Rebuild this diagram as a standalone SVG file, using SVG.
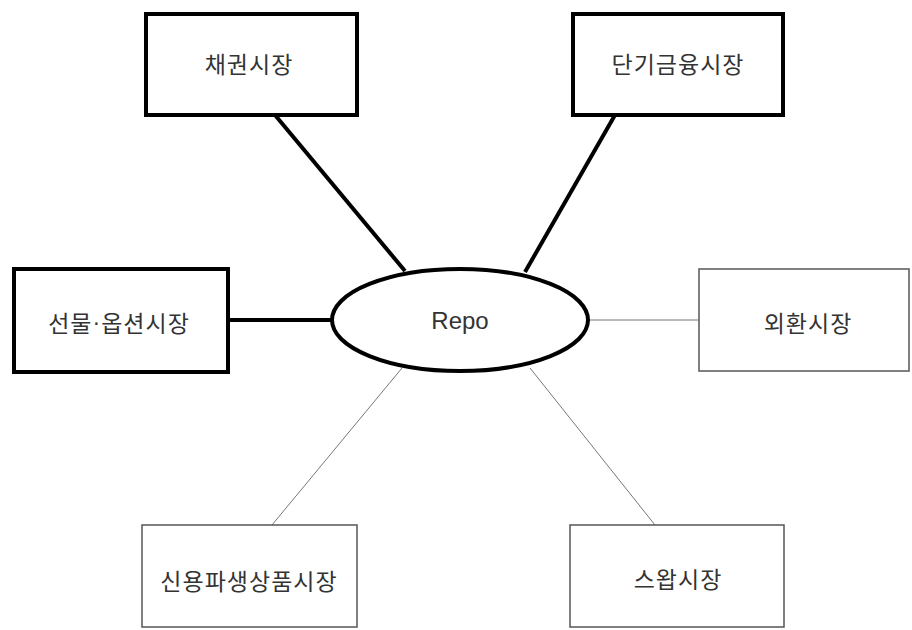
<svg xmlns="http://www.w3.org/2000/svg" width="912" height="630" viewBox="0 0 912 630">
<style>
.thick{fill:#fff;stroke:#000;stroke-width:4}
.thin{fill:#fff;stroke:#555;stroke-width:1.5}
.lk{stroke:#000;stroke-width:4;fill:none}
.ln{stroke:#777;stroke-width:1;fill:none}
.kr{font-family:"Noto Sans CJK KR","Noto Sans CJK SC",sans-serif;font-size:23px;letter-spacing:1px;fill:#333;text-anchor:middle;dominant-baseline:central}
.en{font-family:"Liberation Sans",Arial,sans-serif;font-size:24px;fill:#333;text-anchor:middle;dominant-baseline:central}
.dot{font-family:"Liberation Sans",Arial,sans-serif}
</style>
<rect width="912" height="630" fill="#fff"/>
<g id="connectors">
<line class="lk" x1="275" y1="115" x2="405" y2="271"/>
<line class="lk" x1="615" y1="115" x2="525" y2="272"/>
<line class="lk" x1="228" y1="320" x2="332" y2="320"/>
<line class="ln" x1="588" y1="320" x2="699" y2="320"/>
<line class="ln" x1="272" y1="525" x2="402" y2="368"/>
<line class="ln" x1="655" y1="525" x2="530" y2="368"/>
</g>
<g id="repo">
<ellipse class="thick" cx="460" cy="320" rx="128" ry="51"/>
<text class="en" x="460" y="320">Repo</text>
</g>
<g id="bond">
<rect class="thick" x="146" y="14" width="211" height="101"/>
<text class="kr" x="249" y="63">채권시장</text>
</g>
<g id="money">
<rect class="thick" x="573" y="14" width="210" height="101"/>
<text class="kr" x="678" y="63">단기금융시장</text>
</g>
<g id="futures">
<rect class="thick" x="14" y="269" width="214" height="103"/>
<text class="kr" x="119" y="322">선물<tspan class="dot">·</tspan>옵션시장</text>
</g>
<g id="fx">
<rect class="thin" x="699" y="269" width="210" height="102"/>
<text class="kr" x="808" y="322">외환시장</text>
</g>
<g id="credit">
<rect class="thin" x="142" y="525" width="215" height="102"/>
<text class="kr" x="249" y="580">신용파생상품시장</text>
</g>
<g id="swap">
<rect class="thin" x="570" y="525" width="214" height="102"/>
<text class="kr" x="678" y="578">스왑시장</text>
</g>
</svg>
